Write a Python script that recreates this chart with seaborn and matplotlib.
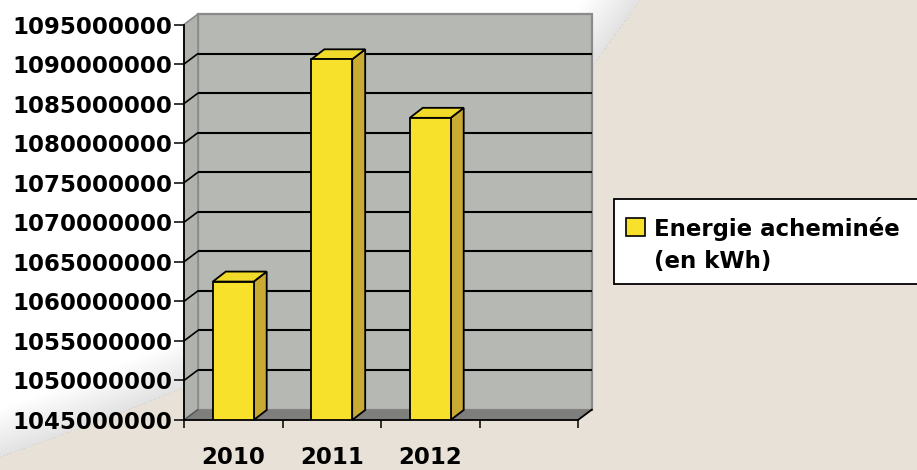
import numpy as np
import pandas as pd
import matplotlib
matplotlib.use("Agg")
import matplotlib.pyplot as plt
from matplotlib.patches import Polygon, Rectangle
from matplotlib.lines import Line2D
import seaborn as sns

# ---------------- data ----------------
years = ["2010", "2011", "2012"]
energy_kwh = [1062500000, 1090600000, 1083200000]
y_ticks = [1045000000, 1050000000, 1055000000, 1060000000, 1065000000,
           1070000000, 1075000000, 1080000000, 1085000000, 1090000000,
           1095000000]
legend_label = "Energie acheminée\n(en kWh)"

# ---------------- style ----------------
BEIGE = "#E8E1D7"
WALL = "#B6B8B3"
SIDEWALL = "#B0B2AD"
FLOOR = "#7E7F7D"
WALL_EDGE = "#8A8A8A"
YELLOW = "#F7E12B"
YELLOW_SIDE = "#C9AA33"
YELLOW_TOP = "#F2DA2A"

sns.set_theme(style="white")
plt.rcParams["font.family"] = ["DejaVu Sans"]

W, H = 917, 470
fig = plt.figure(figsize=(W / 100, H / 100), dpi=100, facecolor=BEIGE)


def fx(x):
    return x / W


def fy(y):
    return 1 - y / H


# ---- background "paper" with a curled edge ----
edge_px = [(640, 0), (597, 60), (540, 140), (450, 240), (330, 322),
           (183, 388), (90, 425), (0, 457)]
paper_pts = [(fx(0), fy(0))] + [(fx(x), fy(y)) for x, y in edge_px]
paper = Polygon(paper_pts, closed=True, transform=fig.transFigure,
                facecolor="white", edgecolor="none", zorder=-10)
fig.patches.append(paper)
ex = [fx(x) for x, y in edge_px]
ey = [fy(y) for x, y in edge_px]
n_steps = 28
for i in range(n_steps):
    width_px = 4 + i * 3.2
    ln = Line2D(ex, ey, transform=fig.transFigure, color="#8c8c8c",
                alpha=0.0075, lw=width_px * 72 / 100, antialiased=False,
                solid_capstyle="projecting", solid_joinstyle="round",
                zorder=-9)
    ln.set_clip_path(paper)
    fig.lines.append(ln)

# ---------------- axes (front plane) ----------------
ax = fig.add_axes([fx(184), fy(420), (578 - 184) / W, (420 - 24.5) / H])
ax.set_facecolor("none")

df = pd.DataFrame({"year": years, "energy": energy_kwh})
sns.barplot(data=df, x="year", y="energy", color=YELLOW, saturation=1,
            edgecolor="black", linewidth=1.3, width=0.415, ax=ax, zorder=3)

y0, y1 = y_ticks[0], y_ticks[-1]
ax.set_ylim(y0, y1)
ax.set_xlim(-0.5, 3.5)

# depth offsets converted to data units
DXpx, DYpx = 14, 10.5
BDXpx, BDYpx = 13, 10
xs_per_px = 4.0 / (578 - 184)
ys_per_px = (y1 - y0) / (420 - 24.5)
DX, DY = DXpx * xs_per_px, DYpx * ys_per_px
BDX, BDY = BDXpx * xs_per_px, BDYpx * ys_per_px
xl, xr = -0.5, 3.5

# back wall
ax.add_patch(Rectangle((xl + DX, y0 + DY), xr - xl, y1 - y0, facecolor=WALL,
                       edgecolor=WALL_EDGE, lw=1.6, clip_on=False, zorder=0.5))
# left side wall
ax.add_patch(Polygon([(xl, y0), (xl, y1), (xl + DX, y1 + DY), (xl + DX, y0 + DY)],
                     closed=True, facecolor=SIDEWALL, edgecolor=WALL_EDGE,
                     lw=1.2, clip_on=False, zorder=0.55))
# gridlines on back wall + diagonals on side wall
for v in y_ticks[1:-1]:
    ax.plot([xl + DX, xr + DX], [v + DY, v + DY], color="black", lw=1.5,
            clip_on=False, zorder=0.6, solid_capstyle="butt")
    ax.plot([xl, xl + DX], [v, v + DY], color="black", lw=1.2,
            clip_on=False, zorder=0.6)
# floor
ax.add_patch(Polygon([(xl, y0), (xr, y0), (xr + DX, y0 + DY), (xl + DX, y0 + DY)],
                     closed=True, facecolor=FLOOR, edgecolor="none",
                     clip_on=False, zorder=0.7))
ax.plot([xr, xr + DX], [y0, y0 + DY], color="black", lw=1.3,
        clip_on=False, zorder=0.8)
ax.plot([xl, xl + DX], [y0, y0 + DY], color="#555555", lw=1.0,
        clip_on=False, zorder=0.8)

# 3D faces of the bars
for p in list(ax.patches):
    if not isinstance(p, Rectangle) or p.get_facecolor()[:3] != matplotlib.colors.to_rgb(YELLOW):
        continue
    bx0 = p.get_x()
    bw = p.get_width()
    top = p.get_y() + p.get_height()
    bot = max(p.get_y(), y0)
    bx1 = bx0 + bw
    ax.add_patch(Polygon([(bx1, bot), (bx1, top), (bx1 + BDX, top + BDY),
                          (bx1 + BDX, bot + BDY)], closed=True,
                         facecolor=YELLOW_SIDE, edgecolor="black", lw=1.3,
                         clip_on=False, zorder=2.9))
    ax.add_patch(Polygon([(bx0, top), (bx1, top), (bx1 + BDX, top + BDY),
                          (bx0 + BDX, top + BDY)], closed=True,
                         facecolor=YELLOW_TOP, edgecolor="black", lw=1.3,
                         clip_on=False, zorder=2.9))

# spines
for s in ["top", "right"]:
    ax.spines[s].set_visible(False)
for s in ["left", "bottom"]:
    ax.spines[s].set_color("black")
    ax.spines[s].set_linewidth(1.3)
    ax.spines[s].set_zorder(4)

# y ticks
ax.set_yticks(y_ticks)
ax.set_yticklabels([str(v) for v in y_ticks])
ax.tick_params(axis="y", which="major", direction="out", length=7, width=1.1,
               color="black", pad=1.5, labelsize=16.5, labelcolor="black",
               left=True)
for t in ax.get_yticklabels():
    t.set_fontweight("bold")

# x ticks: boundaries as major ticks, labels as minor ticks
ax.set_xticks([-0.5, 0.5, 1.5, 2.5, 3.5])
ax.set_xticklabels([])
ax.set_xticks([0, 1, 2], minor=True)
ax.set_xticklabels(years, minor=True)
ax.tick_params(axis="x", which="major", direction="out", length=6, width=1.1,
               color="black", bottom=True)
ax.tick_params(axis="x", which="minor", length=0, pad=19, labelsize=16.5,
               labelcolor="black")
for t in ax.get_xticklabels(minor=True):
    t.set_fontweight("bold")
ax.set_xlabel("")
ax.set_ylabel("")
ax.grid(False)

# ---------------- legend (drawn as figure artists) ----------------
fig.patches.append(Rectangle((fx(614), fy(284)), (940 - 614) / W, (284 - 199) / H,
                             transform=fig.transFigure, facecolor="white",
                             edgecolor="black", lw=1.3, zorder=5))
fig.patches.append(Rectangle((fx(626), fy(236)), (645 - 626) / W, (236 - 218) / H,
                             transform=fig.transFigure, facecolor=YELLOW,
                             edgecolor="black", lw=1.2, zorder=6))
lines = legend_label.split("\n")
fig.text(fx(654), fy(236), lines[0], fontsize=16.5, fontweight="bold",
         color="black", ha="left", va="baseline", zorder=7)
fig.text(fx(654), fy(268), lines[1], fontsize=16.5, fontweight="bold",
         color="black", ha="left", va="baseline", zorder=7)

fig.savefig("out.png", dpi=100, facecolor=BEIGE)
